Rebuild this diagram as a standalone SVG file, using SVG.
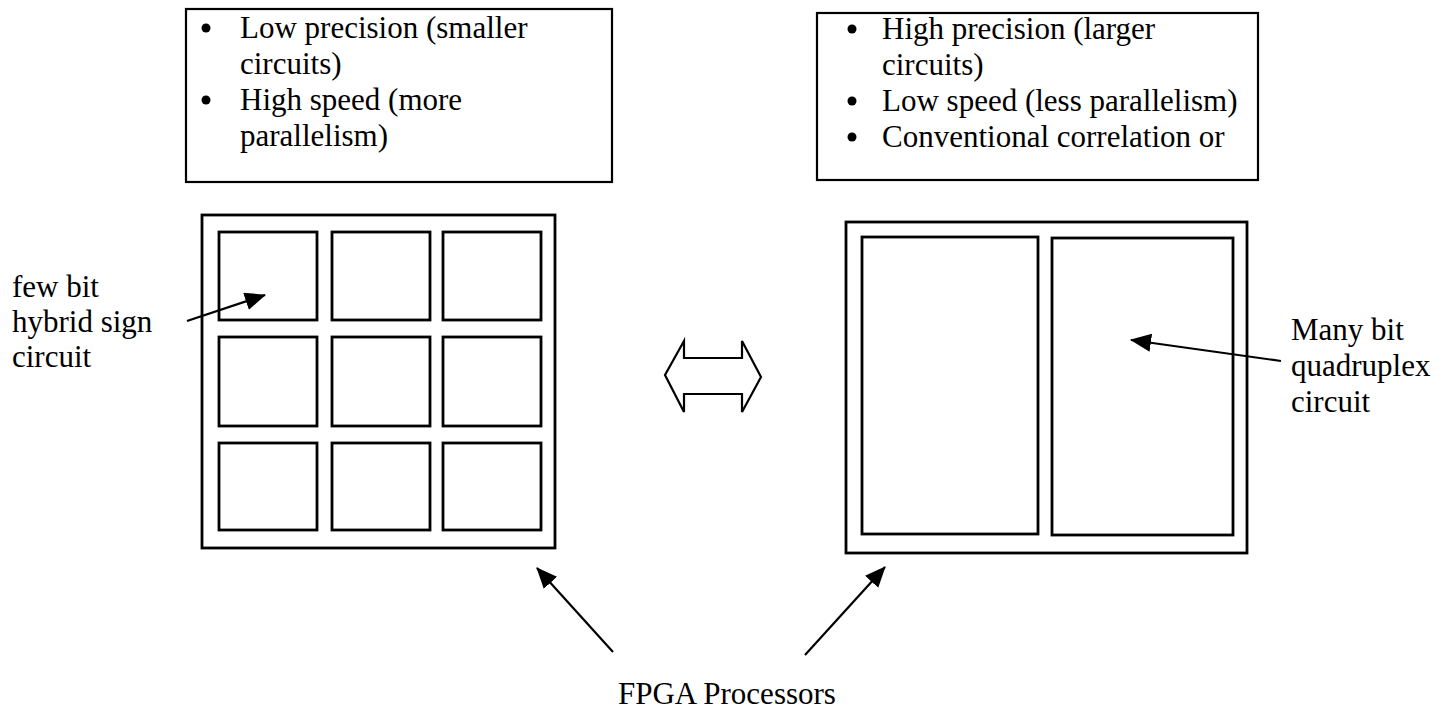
<svg xmlns="http://www.w3.org/2000/svg" width="1450" height="717" viewBox="0 0 1450 717">
<style>
.t{font-family:"Liberation Serif","Times New Roman",serif;font-size:31px;fill:#000}
.box{fill:#fff;stroke:#000;stroke-width:2.2}
.cell{fill:none;stroke:#000;stroke-width:2.8}
.conn{fill:none;stroke:#000;stroke-width:2.2}
</style>
<defs>
<marker id="ah" markerUnits="userSpaceOnUse" markerWidth="22" markerHeight="18" refX="20" refY="9" orient="auto">
<path d="M0,0 L21,9 L0,18 Z" fill="#000"/>
</marker>
</defs>
<rect width="1450" height="717" fill="#fff"/>
<g id="left-notes">
<rect class="box" x="186" y="9" width="426" height="173"/>
<circle cx="206" cy="28" r="4.5"/>
<circle cx="206" cy="100" r="4.5"/>
<text class="t" x="240" y="38">Low precision (smaller</text>
<text class="t" x="240" y="74">circuits)</text>
<text class="t" x="240" y="110">High speed (more</text>
<text class="t" x="240" y="146">parallelism)</text>
</g>
<g id="right-notes">
<rect class="box" x="817" y="13" width="441" height="167"/>
<circle cx="852" cy="29" r="4.5"/>
<circle cx="852" cy="101" r="4.5"/>
<circle cx="852" cy="137" r="4.5"/>
<text class="t" x="882" y="39">High precision (larger</text>
<text class="t" x="882" y="75">circuits)</text>
<text class="t" x="882" y="111">Low speed (less parallelism)</text>
<text class="t" x="882" y="147">Conventional correlation or</text>
</g>
<g id="left-fpga">
<rect class="cell" x="202" y="215" width="353" height="333"/>
<rect class="cell" x="219" y="232" width="98" height="88"/>
<rect class="cell" x="332" y="232" width="98" height="88"/>
<rect class="cell" x="443" y="232" width="98" height="88"/>
<rect class="cell" x="219" y="337" width="98" height="89"/>
<rect class="cell" x="332" y="337" width="98" height="89"/>
<rect class="cell" x="443" y="337" width="98" height="89"/>
<rect class="cell" x="219" y="443" width="98" height="87"/>
<rect class="cell" x="332" y="443" width="98" height="87"/>
<rect class="cell" x="443" y="443" width="98" height="87"/>
</g>
<g id="right-fpga">
<rect class="cell" x="846" y="222" width="401" height="331"/>
<rect class="cell" x="862" y="237" width="176" height="297"/>
<rect class="cell" x="1052" y="238" width="181" height="297"/>
</g>
<g id="left-label">
<text class="t" x="12" y="297">few bit</text>
<text class="t" x="12" y="332">hybrid sign</text>
<text class="t" x="12" y="367">circuit</text>
</g>
<g id="right-label">
<text class="t" x="1291" y="340">Many bit</text>
<text class="t" x="1291" y="376">quadruplex</text>
<text class="t" x="1291" y="412">circuit</text>
</g>
<g id="bottom-label">
<text class="t" x="618" y="704">FPGA Processors</text>
</g>
<g id="double-arrow">
<path class="conn" d="M665,375 L684,341 L684,358 L742,358 L742,341 L761,377 L742,412 L742,394 L684,394 L684,412 Z" stroke-width="2.5"/>
</g>
<g id="connectors">
<line class="conn" x1="187" y1="321" x2="265" y2="295" marker-end="url(#ah)"/>
<line class="conn" x1="1281" y1="361" x2="1131" y2="340" marker-end="url(#ah)"/>
<line class="conn" x1="613" y1="652" x2="537" y2="568" marker-end="url(#ah)"/>
<line class="conn" x1="805" y1="655" x2="885" y2="567" marker-end="url(#ah)"/>
</g>
</svg>
